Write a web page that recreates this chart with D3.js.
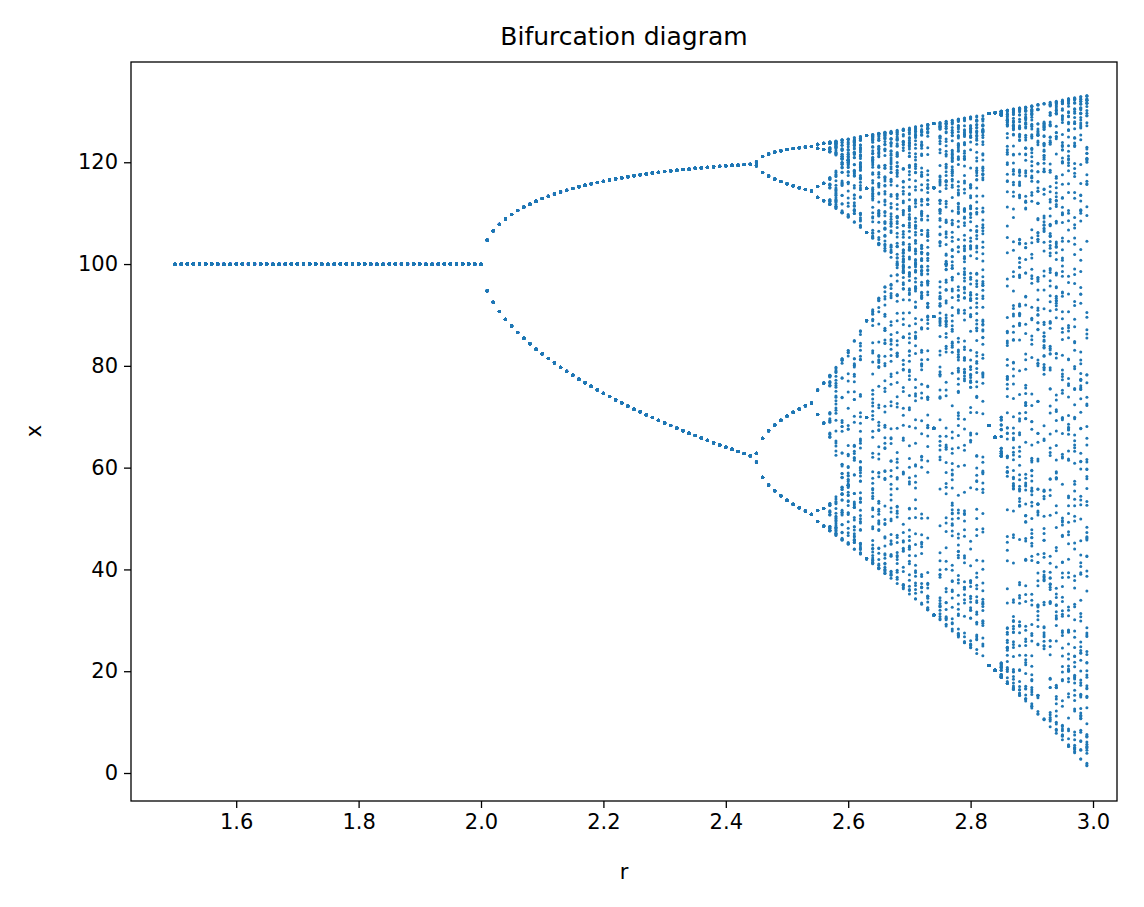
<!DOCTYPE html>
<html><head><meta charset="utf-8">
<script src="https://cdn.jsdelivr.net/npm/d3@7"></script>
<style>body{margin:0;background:#fff}text{font-family:"DejaVu Sans",sans-serif}</style>
</head><body>
<svg id="c" width="1144" height="907"></svg>
<script>
// Model: discrete logistic x' = x + r*x*(1 - x/K)
const rValues = d3.range(150).map(i => +(1.5 + i * 0.01).toFixed(2));
const carryingCapacity = [100];
const startValue = [50];
const transientSteps = [1000];
const keptSteps = [100];
const xTicks = [1.6, 1.8, 2.0, 2.2, 2.4, 2.6, 2.8, 3.0];
const yTicks = [0, 20, 40, 60, 80, 100, 120];

const pts = [];
const K = carryingCapacity[0];
rValues.forEach(r => {
  let x = startValue[0];
  for (let i = 0; i < transientSteps[0]; i++) x = x + r * x * (1 - x / K);
  for (let i = 0; i < keptSteps[0]; i++) { x = x + r * x * (1 - x / K); pts.push([r, x]); }
});

const L = 131, R = 1117, T = 62, B = 801;
const svg = d3.select("#c");
const xs = d3.scaleLinear().domain([1.4281, 3.0392]).range([L, R]);
const ys = d3.scaleLinear().domain([-5.5, 139.7]).range([B, T]);

svg.append("g").selectAll("circle").data(pts).join("circle")
  .attr("cx", d => xs(d[0])).attr("cy", d => ys(d[1])).attr("r", 1.5).attr("fill", "#1f77b4");

const xa = svg.append("g").attr("transform", `translate(0,${B})`)
  .call(d3.axisBottom(xs).tickValues(xTicks).tickFormat(d3.format(".1f")).tickSizeOuter(0).tickSize(7).tickPadding(6));
const ya = svg.append("g").attr("transform", `translate(${L},0)`)
  .call(d3.axisLeft(ys).tickValues(yTicks).tickSizeOuter(0).tickSize(7).tickPadding(6));
[xa, ya].forEach(a => { a.attr("font-size", 21).attr("font-family", "DejaVu Sans"); a.selectAll("text").attr("fill", "#000"); a.select(".domain").remove(); a.selectAll("line").attr("stroke", "#000").attr("stroke-width", 1.3); });
svg.append("rect").attr("x", L).attr("y", T).attr("width", R - L).attr("height", B - T)
  .attr("fill", "none").attr("stroke", "#000").attr("stroke-width", 1.3);
svg.append("text").attr("x", (L + R) / 2).attr("y", 45).attr("text-anchor", "middle").attr("font-size", 25).text("Bifurcation diagram");
svg.append("text").attr("x", (L + R) / 2).attr("y", 879).attr("text-anchor", "middle").attr("font-size", 21).text("r");
svg.append("text").attr("transform", "translate(41,431) rotate(-90)").attr("text-anchor", "middle").attr("font-size", 21).text("x");
</script></body></html>
